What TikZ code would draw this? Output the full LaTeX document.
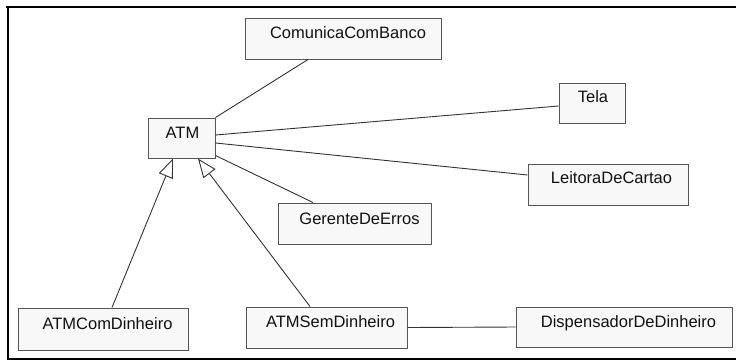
\documentclass[tikz,border=0pt]{standalone}
\usepackage{fontspec}
\setmainfont{Liberation Sans}
\usetikzlibrary{arrows.meta,calc}
\definecolor{boxgray}{HTML}{555555}
\definecolor{boxfill}{HTML}{F8F8F8}
\definecolor{linegray}{HTML}{333333}
\definecolor{txt}{HTML}{111111}
\begin{document}
\begin{tikzpicture}[x=1pt,y=-1pt,
  cls/.style={draw=boxgray, fill=boxfill, line width=1pt, inner sep=0pt},
  ctext/.style={anchor=base, inner sep=0pt, text=txt, font=\fontsize{16.5}{18}\selectfont},
  conn/.style={draw=linegray, line width=0.9pt},
  inherit/.style={conn, -{Triangle[length=19pt,width=15pt,fill=white]}}
]
\useasboundingbox (0,0) rectangle (736,360);
% frame
\draw[line width=2.5pt] (6,7) -- (736,7);
\draw[line width=2.7pt] (8,6) -- (8,360);
\draw[line width=2pt] (8,358.5) -- (736,358.5);

% class boxes
\node[cls, minimum width=196pt, minimum height=41pt] (com) at (343,38.5) {};
\node[cls, minimum width=67pt, minimum height=40pt] (atm) at (181.5,138) {};
\node[cls, minimum width=66pt, minimum height=40pt] (tela) at (592,103) {};
\node[cls, minimum width=160pt, minimum height=41pt] (leit) at (608,184.5) {};
\node[cls, minimum width=153pt, minimum height=41pt] (ger) at (354.5,223.5) {};
\node[cls, minimum width=170pt, minimum height=42pt] (acd) at (103,329) {};
\node[cls, minimum width=161pt, minimum height=41pt] (asd) at (326.5,327.5) {};
\node[cls, minimum width=216pt, minimum height=40pt] (disp) at (624,327) {};

% texts
\node[ctext] (comT) at ([xshift=5pt,yshift=-21pt]com.north) {ComunicaComBanco};
\node[ctext] (atmT) at ([xshift=1pt,yshift=-21pt]atm.north) {ATM};
\node[ctext] (telaT) at ([xshift=1pt,yshift=-20pt]tela.north) {Tela};
\node[ctext] (leitT) at ([xshift=3.5pt,yshift=-20pt]leit.north) {LeitoraDeCartao};
\node[ctext] (gerT) at ([xshift=5pt,yshift=-22pt]ger.north) {GerenteDeErros};
\node[ctext] (acdT) at ([xshift=4.5pt,yshift=-22pt]acd.north) {ATMComDinheiro};
\node[ctext] (asdT) at ([xshift=4pt,yshift=-21pt]asd.north) {ATMSemDinheiro};
\node[ctext] (dispT) at ([xshift=4.5pt,yshift=-21pt]disp.north) {DispensadorDeDinheiro};

% associations
\draw[conn] (atm.north east) -- ([xshift=-35pt]com.south);
\draw[conn] ([yshift=3pt]atm.east) -- ([yshift=-3pt]tela.west);
\draw[conn] ([yshift=-5pt]atm.east) -- ([yshift=9.5pt]leit.west);
\draw[conn] ([yshift=3pt]atm.south east) -- ([xshift=-41.5pt]ger.north);
\draw[conn] (asd.east) -- (disp.west);

% generalizations
\draw[inherit] ([xshift=9pt]acd.north) -- ([xshift=-8.5pt]atm.south);
\draw[inherit] ([xshift=-16.5pt]asd.north) -- ([xshift=16.5pt]atm.south);
\end{tikzpicture}
\end{document}
